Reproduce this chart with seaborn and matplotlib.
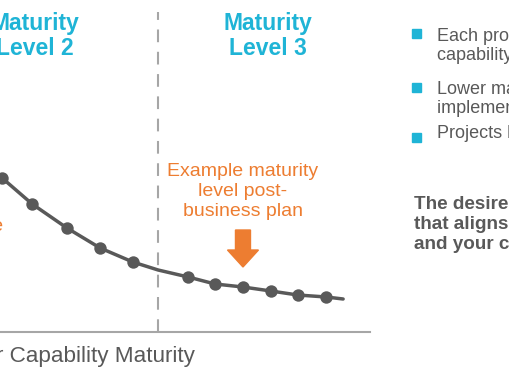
import matplotlib
matplotlib.use("Agg")
import matplotlib.pyplot as plt
import matplotlib.transforms as mtransforms
from matplotlib.patches import Polygon, Rectangle
import seaborn as sns
import pandas as pd

# curve of the maturity chart (x: capability maturity, y: cost / effort)
curve_x = [-0.5, 0.04, 0.61, 1.27, 1.90, 2.52, 3.0, 3.57, 4.08, 4.61, 5.14, 5.65, 6.19, 6.51]
curve_y = [3.60, 3.08, 2.56, 2.08, 1.68, 1.40, 1.24, 1.10, 0.96, 0.90, 0.82, 0.74, 0.70, 0.66]
# the dots sitting on the curve
step_x = [0.04, 0.61, 1.27, 1.90, 2.52, 3.57, 4.08, 4.61, 5.14, 5.65, 6.19]
step_y = [3.08, 2.56, 2.08, 1.68, 1.40, 1.10, 0.96, 0.90, 0.82, 0.74, 0.70]
level_edge = 3.0
example_x, example_y = 4.61, 1.30

level_labels = ["Maturity\nLevel 2", "Maturity\nLevel 3"]
level_centers = [0.66, 5.09]
bullets = ["Each process improves\ncapability maturity",
           "Lower maturity levels are\nimplemented first",
           "Projects build on each other"]
summary = "The desired maturity level is one\nthat aligns with your business\nand your capabilities"

cyan = "#1fb4d6"
orange = "#ed7d31"
dark = "#595959"
grey = "#a6a6a6"

sns.set_theme(style="white")
plt.rcParams["font.family"] = ["Liberation Sans", "DejaVu Sans"]

fig = plt.figure(figsize=(5.1, 3.82), dpi=100)
ax = fig.add_axes([0, 50 / 382, 370 / 510, 320 / 382])

curve = pd.DataFrame({"x": curve_x, "y": curve_y})
steps = pd.DataFrame({"x": step_x, "y": step_y})
sns.lineplot(data=curve, x="x", y="y", color=dark, lw=2.5, ax=ax)
sns.scatterplot(data=steps, x="x", y="y", color=dark, s=80, edgecolor=dark,
                linewidth=0, ax=ax, zorder=3)

ax.axvline(level_edge, color=grey, lw=1.5, dashes=(6.1, 4.6), zorder=1)
ax.set_xlim(0, 7.02)
ax.set_ylim(0, 6.4)
ax.set_xlabel("")
ax.set_ylabel("")
ax.set_xticks([])
ax.set_yticks([])
for side in ["left", "top", "right"]:
    ax.spines[side].set_visible(False)
ax.spines["bottom"].set_color(grey)
ax.spines["bottom"].set_linewidth(1.5)

# multi-line texts are placed by the baseline of their last line
for lab, cx in zip(level_labels, level_centers):
    ax.text(cx, 5.54, lab, ha="center", va="baseline", color=cyan,
            fontsize=16.5, fontweight="bold", linespacing=1.12)

ax.text(example_x, 2.32, "Example maturity\nlevel post-\nbusiness plan",
        ha="center", va="baseline", color=orange, fontsize=14, linespacing=1.22)
ax.text(0.06, 2.02, "Current state", ha="right", va="baseline",
        color=orange, fontsize=14, clip_on=False)

# down arrow pointing at the example level
arrow_trans = fig.dpi_scale_trans + mtransforms.ScaledTranslation(example_x, example_y, ax.transData)
arrow = Polygon([(0, 0), (-0.155, 0.17), (-0.075, 0.17), (-0.075, 0.37),
                 (0.075, 0.37), (0.075, 0.17), (0.155, 0.17)],
                closed=True, color=orange, transform=arrow_trans, clip_on=False)
ax.add_patch(arrow)

fig.text(195 / 510, 1 - 362 / 382, "Higher Capability Maturity", ha="right",
         va="baseline", color=dark, fontsize=16.2)

# right hand notes
square_top = [29, 83, 133]
last_baseline = [60, 113, 138]
for txt, sq, by in zip(bullets, square_top, last_baseline):
    fig.add_artist(Rectangle((412 / 510, 1 - (sq + 9) / 382), 9 / 510, 9 / 382,
                             transform=fig.transFigure, color=cyan))
    fig.text(437 / 510, 1 - by / 382, txt, ha="left", va="baseline",
             color=dark, fontsize=13, linespacing=1.12)

fig.text(414 / 510, 1 - 249 / 382, summary, ha="left", va="baseline",
         color=dark, fontsize=13.6, fontweight="bold", linespacing=1.22)

fig.savefig("out.png", dpi=100)
